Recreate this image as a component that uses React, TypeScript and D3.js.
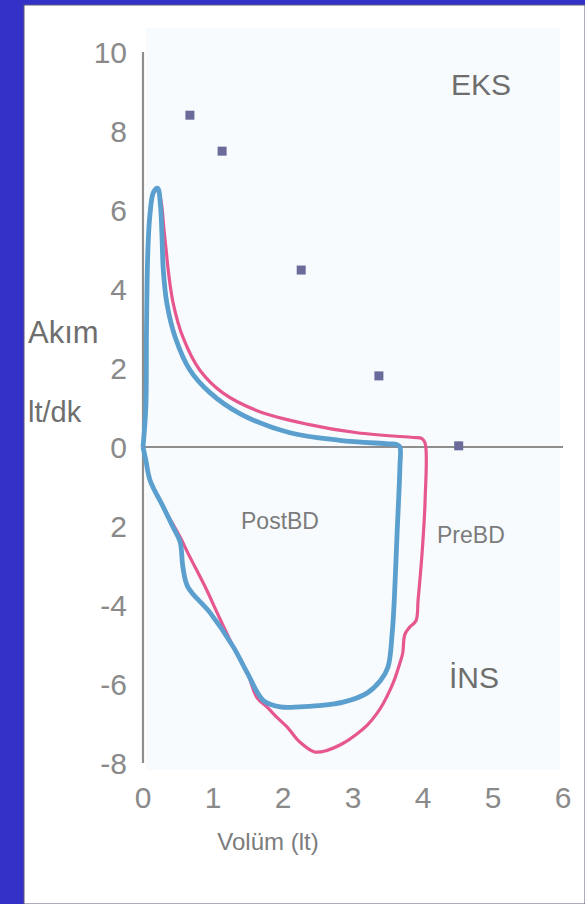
import React from "react";
import * as d3 from "d3";

const yTicks = [10, 8, 6, 4, 2, 0, -2, -4, -6, -8];
const yTickLabels = ["10", "8", "6", "4", "2", "0", "2", "-4", "-6", "-8"];
const xTicks = [0, 1, 2, 3, 4, 5, 6];

const predVol = [0.67, 1.13, 2.26, 3.37, 4.51];
const predFlow = [8.4, 7.49, 4.48, 1.8, 0.03];

// PreBD loop (volume, flow)
const preVol = [0, 0.04, 0.05, 0.07, 0.1, 0.16, 0.21, 0.26, 0.3, 0.33, 0.36, 0.43, 0.57, 0.81, 1.14, 1.63, 2.34, 3.06, 3.86, 3.98, 4.03, 4.03, 3.99, 3.93, 3.9, 3.81, 3.74, 3.71, 3.67, 3.6, 3.53, 3.43, 3.34, 3.2, 3.06, 2.86, 2.63, 2.45, 2.24, 2.06, 1.91, 1.77, 1.63, 1.49, 1.29, 1.06, 0.91, 0.64, 0.53, 0.29, 0.1, 0.04, 0];
const preFlow = [0, 1, 3, 5, 5.9, 6.45, 6.5, 6.2, 5.5, 5.0, 4.48, 3.65, 2.78, 1.95, 1.37, 0.92, 0.58, 0.36, 0.24, 0.22, 0.1, -1.34, -2.61, -3.87, -4.4, -4.56, -4.75, -5.22, -5.47, -5.85, -6.15, -6.5, -6.75, -7.05, -7.26, -7.5, -7.68, -7.72, -7.47, -7.09, -6.84, -6.58, -6.35, -5.72, -5.06, -4.2, -3.62, -2.68, -2.28, -1.52, -0.84, -0.33, 0];

// PostBD loop (volume, flow)
const postVol = [0, 0.04, 0.05, 0.07, 0.1, 0.15, 0.21, 0.25, 0.27, 0.29, 0.34, 0.46, 0.67, 0.96, 1.39, 2.1, 2.81, 3.5, 3.63, 3.67, 3.67, 3.63, 3.59, 3.56, 3.5, 3.39, 3.2, 2.86, 2.5, 2.24, 1.96, 1.72, 1.49, 1.29, 0.96, 0.64, 0.57, 0.53, 0.43, 0.29, 0.1, 0.04, 0];
const postFlow = [0, 1, 3, 5, 5.9, 6.45, 6.55, 6.1, 5.4, 4.48, 3.65, 2.78, 1.95, 1.37, 0.84, 0.36, 0.17, 0.08, 0.06, 0, -0.5, -2.18, -3.87, -4.71, -5.57, -5.92, -6.23, -6.46, -6.55, -6.58, -6.58, -6.42, -5.72, -5.06, -4.2, -3.54, -3.04, -2.4, -2.03, -1.52, -0.84, -0.33, 0];

export default function App() {
  const W = 585;
  const H = 904;
  const x = d3.scaleLinear().domain([0, 6]).range([143, 563]);
  const y = d3.scaleLinear().domain([-8, 10]).range([763, 52]);

  const line = d3
    .line<[number, number]>()
    .x((d) => x(d[0]))
    .y((d) => y(d[1]))
    .curve(d3.curveCatmullRom.alpha(0.5));

  const prePts: [number, number][] = preVol.map((v, i) => [v, preFlow[i]]);
  const postPts: [number, number][] = postVol.map((v, i) => [v, postFlow[i]]);

  const font = "'Liberation Sans', Arial, Helvetica, sans-serif";

  return (
    <svg
      width={W}
      height={H}
      style={{ position: "absolute", left: 0, top: 0, display: "block" }}
    >
      <rect x={0} y={0} width={W} height={H} fill="#3431c9" />
      <rect x={24} y={5} width={W - 24} height={H - 5} fill="#ffffff" stroke="#5a5a7a" strokeWidth={1} />
      <rect x={146} y={28} width={414} height={742} fill="#f7fbfd" />

      {/* axes */}
      <line x1={x(0)} x2={x(0)} y1={y(10)} y2={y(-8)} stroke="#8e8e8e" strokeWidth={2.2} />
      <line x1={x(0)} x2={x(6)} y1={y(0)} y2={y(0)} stroke="#8e8e8e" strokeWidth={1.8} />

      {yTicks.map((t, i) => (
        <text
          key={"yt" + i}
          x={127}
          y={y(t)}
          dy="0.36em"
          textAnchor="end"
          fontFamily={font}
          fontSize={30}
          fill="#8a8a8a"
        >
          {yTickLabels[i]}
        </text>
      ))}
      {xTicks.map((t) => (
        <text
          key={"xt" + t}
          x={x(t)}
          y={808}
          textAnchor="middle"
          fontFamily={font}
          fontSize={30}
          fill="#8a8a8a"
        >
          {t}
        </text>
      ))}

      {/* curves */}
      <path d={line(prePts) || ""} fill="none" stroke="#e6578f" strokeWidth={3.2} strokeLinejoin="round" />
      <path d={line(postPts) || ""} fill="none" stroke="#5b9fcf" strokeWidth={4.8} strokeLinejoin="round" />

      {/* predicted points */}
      {predVol.map((v, i) => (
        <rect
          key={"p" + i}
          x={x(v) - 4.5}
          y={y(predFlow[i]) - 4.5}
          width={9}
          height={9}
          fill="#6b6b9b"
        />
      ))}

      {/* labels */}
      <text x={451} y={95} fontFamily={font} fontSize={30} fill="#6e6e6e">EKS</text>
      <text x={449} y={688} fontFamily={font} fontSize={30} fill="#6e6e6e">İNS</text>
      <text x={28} y={343} fontFamily={font} fontSize={31} fill="#6e6e6e">Akım</text>
      <text x={28} y={422} fontFamily={font} fontSize={29} fill="#6e6e6e">lt/dk</text>
      <text x={241} y={529} fontFamily={font} fontSize={23} fill="#7c7c7c">PostBD</text>
      <text x={437} y={543} fontFamily={font} fontSize={23} fill="#7c7c7c">PreBD</text>
      <text x={268} y={850} textAnchor="middle" fontFamily={font} fontSize={24} fill="#7c7c7c">Volüm (lt)</text>
    </svg>
  );
}
